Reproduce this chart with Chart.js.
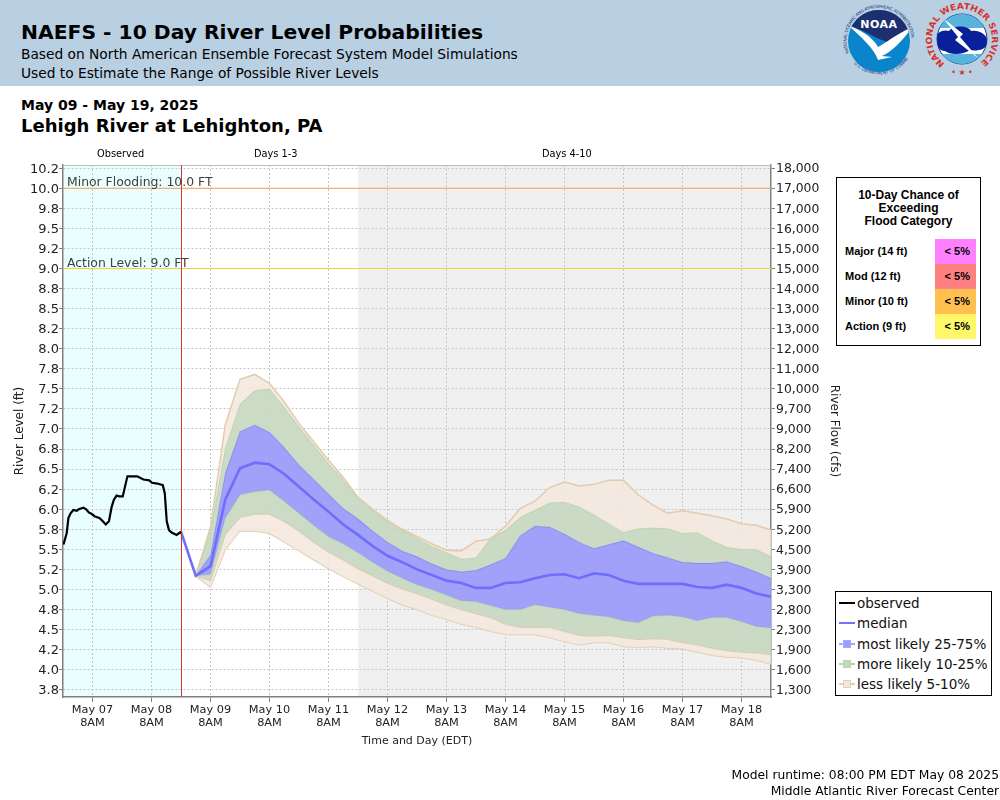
<!DOCTYPE html>
<html>
<head>
<meta charset="utf-8">
<title>NAEFS - 10 Day River Level Probabilities</title>
<script src="https://cdn.jsdelivr.net/npm/chart.js@4"></script>
<style>
  html, body { margin: 0; padding: 0; background: #fff; }
  body { width: 1000px; height: 800px; position: relative; overflow: hidden; font-family: "DejaVu Sans", sans-serif; color: #000; }
  .abs { position: absolute; white-space: nowrap; line-height: 1; }
  #banner { position: absolute; left: 0; top: 0; width: 1000px; height: 86px; background: #b9d0e3; }
  canvas { position: absolute; left: 0; top: 0; }
  #floodBox { position: absolute; left: 836px; top: 177px; width: 143px; height: 167px; border: 1px solid #000; background: #fff; font-family: "Liberation Sans", Arial, sans-serif; font-weight: bold; }
  #floodTitle { position: absolute; left: 0; top: 11px; width: 100%; text-align: center; font-size: 12px; line-height: 13px; }
  .floodLabel { position: absolute; left: 8px; font-size: 11px; line-height: 25px; }
  .floodCell { position: absolute; left: 98px; width: 41px; height: 25px; font-size: 11px; line-height: 25px; text-align: right; }
  .floodCell span { padding-right: 6px; }
  #legendBox { position: absolute; left: 835px; top: 591px; width: 155px; height: 103px; border: 1px solid #000; background: #fff; }
  .legRow { position: absolute; left: 0; width: 100%; height: 20px; font-size: 13.5px; line-height: 20px; color: #111; }
  .legRow .txt { position: absolute; left: 21px; top: 0; white-space: nowrap; }
  .legRow .ln { position: absolute; left: 3px; top: 9px; width: 16px; height: 2px; }
  .legRow .sq { position: absolute; left: 7px; top: 6px; width: 6px; height: 6px; border: 1px solid; }
</style>
</head>
<body>
<div id="banner"></div>
<div class="abs" style="left:21px;top:22px;font-size:20.3px;font-weight:bold;">NAEFS - 10 Day River Level Probabilities</div>
<div class="abs" style="left:21px;top:48px;font-size:13.75px;">Based on North American Ensemble Forecast System Model Simulations</div>
<div class="abs" style="left:21px;top:67px;font-size:13.75px;">Used to Estimate the Range of Possible River Levels</div>

<svg class="abs" style="left:840px;top:0;" width="160" height="84" viewBox="840 0 160 84">
  <defs>
    <path id="noaaRing" d="M 849 53 A 32.5 32.5 0 1 1 909 53"/>
    <path id="noaaRingLow" d="M 850 59 A 35 35 0 0 0 908 59"/>
    <path id="nwsRing" d="M 944.8 63.6 A 30 30 0 1 1 979.2 63.6"/>
    <clipPath id="noaaDisc"><circle cx="879" cy="41" r="31"/></clipPath>
    <clipPath id="nwsDisc"><circle cx="962" cy="39" r="25"/></clipPath>
  </defs>
  <text font-size="4.2" fill="#1d2f6f" font-family="DejaVu Sans"><textPath href="#noaaRing" textLength="112">NATIONAL OCEANIC AND ATMOSPHERIC ADMINISTRATION</textPath></text>
  <text font-size="4.2" fill="#1d2f6f" font-family="DejaVu Sans"><textPath href="#noaaRingLow" startOffset="6">U.S. DEPARTMENT OF COMMERCE</textPath></text>
  <g clip-path="url(#noaaDisc)">
    <rect x="845" y="8" width="70" height="70" fill="#0a85cc"/>
    <path d="M 845 8 H 915 V 27 L 893 44 L 879 39 L 863 31 L 845 24 Z" fill="#1d2f6f"/>
    <path d="M 848 25 C 860 30 872 36 878 47 C 884 44 898 33 912 27 C 902 42 892 51 882 56 L 892 57 L 878 60 C 874 48 860 36 848 25 Z" fill="#fff"/>
  </g>
  <text x="879" y="28" text-anchor="middle" font-size="11" font-weight="bold" fill="#fff" font-family="DejaVu Sans" letter-spacing="0.5">NOAA</text>

  <text font-size="8.5" font-weight="bold" fill="#d9302a" font-family="DejaVu Sans"><textPath href="#nwsRing" textLength="150" lengthAdjust="spacingAndGlyphs">NATIONAL WEATHER SERVICE</textPath></text>
  <circle cx="962" cy="39" r="25" fill="#ffffff" stroke="#123a8a" stroke-width="1"/>
  <g clip-path="url(#nwsDisc)">
    <rect x="937" y="14" width="50" height="14" fill="#58b4dc"/>
    <rect x="937" y="54" width="50" height="10" fill="#58b4dc"/>
    <path d="M 936 42 C 933 33 943 29 949 31 C 953 25 968 25 971 31 C 980 29 989 36 987 43 C 986 51 975 51 970 50 C 963 55 950 55 945 51 C 940 51 937 47 936 42 Z" fill="#0a1f9a"/>
    <path d="M 943 18 L 963 34 L 960 37 L 978 58 L 955 40 L 958 37 Z" fill="#fff"/>
  </g>
  <text x="962" y="75" text-anchor="middle" font-size="8" fill="#d9302a" font-family="DejaVu Sans">• ★ •</text>
</svg>

<div class="abs" style="left:21px;top:98px;font-size:14px;font-weight:bold;">May 09 - May 19, 2025</div>
<div class="abs" style="left:21px;top:117px;font-size:18px;font-weight:bold;">Lehigh River at Lehighton, PA</div>

<canvas id="chart" width="1000" height="800"></canvas>

<div class="abs" style="left:97px;top:149px;font-size:9.8px;">Observed</div>
<div class="abs" style="left:254px;top:149px;font-size:9.8px;">Days 1-3</div>
<div class="abs" style="left:542px;top:149px;font-size:9.8px;">Days 4-10</div>

<div id="floodBox"><div id="floodTitle">10-Day Chance of<br>Exceeding<br>Flood Category</div></div>
<div id="legendBox"></div>

<div class="abs" style="right:1px;top:769px;font-size:12.3px;">Model runtime: 08:00 PM EDT May 08 2025</div>
<div class="abs" style="right:1px;top:785px;font-size:12.3px;">Middle Atlantic River Forecast Center</div>

<script>
// Hours are counted from May 07 8AM EDT
const dayHours = [0, 24, 48, 72, 96, 120, 144, 168, 192, 216, 240, 264];
const dayLabels = ['May 07', 'May 08', 'May 09', 'May 10', 'May 11', 'May 12', 'May 13', 'May 14', 'May 15', 'May 16', 'May 17', 'May 18'];

const levelTicks = [10.25, 10, 9.75, 9.5, 9.25, 9, 8.75, 8.5, 8.25, 8, 7.75, 7.5, 7.25, 7, 6.75, 6.5, 6.25, 6, 5.75, 5.5, 5.25, 5, 4.75, 4.5, 4.25, 4, 3.75];
const levelLabels = ['10.2', '10.0', '9.8', '9.5', '9.2', '9.0', '8.8', '8.5', '8.2', '8.0', '7.8', '7.5', '7.2', '7.0', '6.8', '6.5', '6.2', '6.0', '5.8', '5.5', '5.2', '5.0', '4.8', '4.5', '4.2', '4.0', '3.8'];
const flowLabels = ['18,000', '17,000', '17,000', '16,000', '15,000', '15,000', '14,000', '13,000', '13,000', '12,000', '11,000', '10,000', '9,700', '9,000', '8,200', '7,400', '6,600', '5,900', '5,200', '4,500', '3,900', '3,300', '2,800', '2,300', '1,900', '1,600', '1,300'];

const axisMin = 3.66;
const axisMax = 10.29;
const hourMin = -12;
const hourMax = 276;

const minorLevel = 10;
const actionLevel = 9;

const observedHours = [-11.8, -10.5, -9.8, -8.9, -7.8, -6.4, -5.6, -3.7, -2.6, -1.5, -0.3, 1, 2.8, 4.2, 5.4, 6.7, 7.8, 8.7, 9.8, 10.9, 12.3, 14.2, 18.2, 20.7, 23.1, 24.2, 26.4, 28.6, 29.4, 30.2, 31.1, 32.2, 34.2, 35.6, 36];
const observedLevel = [5.56, 5.70, 5.89, 5.95, 5.99, 5.98, 6.00, 6.02, 6.00, 5.96, 5.94, 5.91, 5.89, 5.85, 5.81, 5.85, 6.03, 6.12, 6.17, 6.16, 6.16, 6.41, 6.41, 6.37, 6.36, 6.33, 6.32, 6.30, 6.20, 5.85, 5.74, 5.71, 5.68, 5.71, 5.72];

const medianHours = [36, 42, 48, 54, 60, 66, 72, 78, 84, 90, 96, 102, 108, 114, 120, 126, 132, 138, 144, 150, 156, 162, 168, 174, 180, 186, 192, 198, 204, 210, 216, 222, 228, 234, 240, 246, 252, 258, 264, 270, 276];
const median = [5.72, 5.17, 5.29, 6.12, 6.51, 6.58, 6.56, 6.44, 6.28, 6.12, 5.97, 5.81, 5.68, 5.54, 5.42, 5.34, 5.25, 5.18, 5.11, 5.08, 5.02, 5.02, 5.08, 5.09, 5.14, 5.18, 5.19, 5.14, 5.20, 5.18, 5.11, 5.07, 5.07, 5.07, 5.07, 5.03, 5.02, 5.06, 5.02, 4.95, 4.91];

const bandHours = [42, 48, 54, 60, 66, 72, 78, 84, 90, 96, 102, 108, 114, 120, 126, 132, 138, 144, 150, 156, 162, 168, 174, 180, 186, 192, 198, 204, 210, 216, 222, 228, 234, 240, 246, 252, 258, 264, 270, 276];
const upper5 = [5.17, 5.78, 7.05, 7.62, 7.68, 7.57, 7.34, 7.07, 6.84, 6.61, 6.40, 6.15, 6.00, 5.86, 5.75, 5.66, 5.57, 5.49, 5.48, 5.60, 5.63, 5.79, 6.01, 6.10, 6.27, 6.34, 6.29, 6.31, 6.36, 6.36, 6.18, 6.05, 5.95, 5.98, 5.95, 5.92, 5.88, 5.82, 5.80, 5.74];
const upper10 = [5.17, 5.74, 6.76, 7.31, 7.48, 7.50, 7.27, 7.03, 6.80, 6.57, 6.37, 6.13, 5.99, 5.85, 5.74, 5.64, 5.54, 5.46, 5.38, 5.40, 5.64, 5.74, 5.90, 5.99, 6.08, 6.09, 6.03, 5.93, 5.82, 5.71, 5.76, 5.77, 5.76, 5.70, 5.71, 5.61, 5.53, 5.50, 5.50, 5.41];
const upper25 = [5.17, 5.43, 6.45, 6.97, 7.05, 6.96, 6.77, 6.55, 6.37, 6.19, 6.01, 5.88, 5.73, 5.59, 5.48, 5.41, 5.32, 5.25, 5.22, 5.24, 5.31, 5.39, 5.67, 5.79, 5.78, 5.69, 5.59, 5.51, 5.56, 5.61, 5.53, 5.45, 5.40, 5.34, 5.33, 5.33, 5.35, 5.29, 5.22, 5.14];
const lower25 = [5.17, 5.19, 5.89, 6.18, 6.22, 6.24, 6.10, 5.95, 5.80, 5.66, 5.57, 5.46, 5.34, 5.23, 5.14, 5.06, 5.00, 4.93, 4.86, 4.85, 4.80, 4.75, 4.75, 4.81, 4.78, 4.75, 4.70, 4.68, 4.66, 4.61, 4.59, 4.67, 4.68, 4.66, 4.61, 4.65, 4.65, 4.60, 4.54, 4.52];
const lower10 = [5.17, 5.11, 5.69, 5.90, 5.94, 5.94, 5.85, 5.73, 5.59, 5.47, 5.37, 5.26, 5.17, 5.08, 5.01, 4.95, 4.88, 4.81, 4.75, 4.70, 4.65, 4.57, 4.53, 4.53, 4.53, 4.48, 4.43, 4.42, 4.43, 4.40, 4.38, 4.39, 4.38, 4.34, 4.31, 4.27, 4.24, 4.22, 4.21, 4.19];
const lower5 = [5.17, 5.03, 5.50, 5.73, 5.73, 5.70, 5.59, 5.48, 5.37, 5.26, 5.16, 5.07, 4.98, 4.89, 4.81, 4.75, 4.68, 4.63, 4.57, 4.53, 4.48, 4.44, 4.44, 4.44, 4.40, 4.35, 4.31, 4.34, 4.34, 4.29, 4.28, 4.29, 4.27, 4.26, 4.22, 4.18, 4.16, 4.15, 4.12, 4.07];

// Flood category table
const floodNames = ['Major (14 ft)', 'Mod (12 ft)', 'Minor (10 ft)', 'Action (9 ft)'];
const floodChance = ['< 5%', '< 5%', '< 5%', '< 5%'];
const floodColors = ['#ff80ff', '#ff8080', '#ffc050', '#fff76a'];

// Legend
const legendNames = ['observed', 'median', 'most likely 25-75%', 'more likely 10-25%', 'less likely 5-10%'];
const legendLines = ['#000000', '#7272fa', '#a8a8fc', '#b9d5ae', '#e6cfb4'];
const legendBoxes = [null, null, '#9c9cfa', '#c3d7b9', '#f0e6da'];

const tan = 'rgba(243, 232, 221, 0.85)';
const green = 'rgba(200, 216, 193, 0.92)';
const blue = 'rgba(155, 155, 250, 0.94)';
const tanEdge = 'rgba(226, 203, 176, 1)';
const greenEdge = 'rgba(184, 214, 172, 1)';
const blueEdge = 'rgba(134, 134, 250, 1)';
const gridColor = '#c6c6c6';

function points(xs, ys) {
  return xs.map((x, i) => ({ x: x, y: ys[i] }));
}

function bandSet(values, edge, fillColor) {
  return {
    data: points(bandHours, values),
    borderColor: edge,
    borderWidth: 1.5,
    backgroundColor: fillColor || 'transparent',
    fill: fillColor ? '+1' : false,
    pointRadius: 0,
    tension: 0,
    order: 5
  };
}

function flatLine(level, color) {
  return {
    data: points([hourMin, hourMax], [level, level]),
    borderColor: color,
    borderWidth: 1,
    pointRadius: 0,
    fill: false,
    order: 4
  };
}

// Shaded zones, cut line and flood labels
const chartNotes = {
  id: 'chartNotes',
  beforeDraw(chart) {
    const { ctx, chartArea: a, scales: { x } } = chart;
    ctx.save();
    ctx.fillStyle = '#e9feff';
    ctx.fillRect(a.left, a.top, x.getPixelForValue(36) - a.left, a.height);
    ctx.fillStyle = '#f0f0f0';
    ctx.fillRect(x.getPixelForValue(108), a.top, a.right - x.getPixelForValue(108), a.height);
    ctx.restore();
  },
  afterDatasetsDraw(chart) {
    const { ctx, chartArea: a, scales: { x, y } } = chart;
    ctx.save();
    ctx.strokeStyle = '#bdbdbd';
    ctx.beginPath();
    ctx.moveTo(a.left, a.top + 0.5);
    ctx.lineTo(a.right, a.top + 0.5);
    ctx.stroke();
    ctx.strokeStyle = '#d8342c';
    ctx.beginPath();
    ctx.moveTo(Math.round(x.getPixelForValue(36)) + 0.5, a.top);
    ctx.lineTo(Math.round(x.getPixelForValue(36)) + 0.5, a.bottom);
    ctx.stroke();
    ctx.fillStyle = '#404040';
    ctx.font = '12.4px "DejaVu Sans"';
    ctx.fillText('Minor Flooding: 10.0 FT', a.left + 4, y.getPixelForValue(minorLevel) - 2);
    ctx.fillText('Action Level: 9.0 FT', a.left + 4, y.getPixelForValue(actionLevel) - 2);
    ctx.restore();
  }
};

new Chart(document.getElementById('chart'), {
  type: 'line',
  data: {
    datasets: [
      { data: points(observedHours, observedLevel), borderColor: '#000', borderWidth: 2.2, pointRadius: 0, fill: false, order: 1 },
      { data: points(medianHours, median), borderColor: '#6e6efa', borderWidth: 2.6, pointRadius: 0, fill: false, order: 2 },
      flatLine(minorLevel, '#ffa040'),
      flatLine(actionLevel, '#f8d030'),
      bandSet(upper5, tanEdge, tan),
      bandSet(upper10, greenEdge, green),
      bandSet(upper25, blueEdge, blue),
      bandSet(lower25, greenEdge, green),
      bandSet(lower10, tanEdge, tan),
      bandSet(lower5, tanEdge, null)
    ]
  },
  options: {
    responsive: false,
    animation: false,
    devicePixelRatio: 1,
    layout: { padding: { left: 0, top: 165, right: 159, bottom: 49 } },
    plugins: { legend: { display: false }, tooltip: { enabled: false } },
    scales: {
      x: {
        type: 'linear',
        min: hourMin,
        max: hourMax,
        afterBuildTicks(scale) { scale.ticks = dayHours.map(v => ({ value: v })); },
        afterFit(scale) { scale.height = 54; },
        ticks: {
          autoSkip: false,
          maxRotation: 0,
          font: { family: 'DejaVu Sans', size: 11.3, lineHeight: '13px' },
          color: '#222',
          padding: 2,
          callback: (v, i) => [dayLabels[i], '8AM']
        },
        grid: { color: gridColor, tickColor: '#808080', tickLength: 5 },
        border: { color: '#808080', width: 1.5, dash: [2, 2] },
        title: { display: true, text: 'Time and Day (EDT)', font: { family: 'DejaVu Sans', size: 11 }, color: '#222', padding: { top: 0, bottom: 3 } }
      },
      y: {
        min: axisMin,
        max: axisMax,
        afterBuildTicks(scale) { scale.ticks = levelTicks.map(v => ({ value: v })); },
        afterFit(scale) { scale.width = 63; },
        ticks: {
          autoSkip: false,
          font: { family: 'DejaVu Sans', size: 13 },
          color: '#222',
          padding: 0,
          labelOffset: 1,
          callback: (v, i) => levelLabels[i]
        },
        grid: { color: gridColor, tickColor: '#808080', tickLength: 4 },
        border: { color: '#808080', width: 1.5, dash: [2, 2] },
        title: { display: true, text: 'River Level (ft)', font: { family: 'DejaVu Sans', size: 12 }, color: '#222', padding: { top: 13, bottom: 0 } }
      },
      y2: {
        position: 'right',
        min: axisMin,
        max: axisMax,
        afterBuildTicks(scale) { scale.ticks = levelTicks.map(v => ({ value: v })); },
        afterFit(scale) { scale.width = 70; },
        ticks: {
          autoSkip: false,
          font: { family: 'DejaVu Sans', size: 12.4 },
          color: '#222',
          padding: 1,
          labelOffset: 1,
          callback: (v, i) => flowLabels[i]
        },
        grid: { drawOnChartArea: false, tickColor: '#808080', tickLength: 4 },
        border: { color: '#808080', width: 1.5 },
        title: { display: true, text: 'River Flow (cfs)', font: { family: 'DejaVu Sans', size: 12 }, color: '#222', padding: { top: 0, bottom: 6 } }
      }
    }
  },
  plugins: [chartNotes]
});

// Flood category rows
const floodBox = document.getElementById('floodBox');
floodNames.forEach((name, i) => {
  const top = 61 + i * 25;
  floodBox.insertAdjacentHTML('beforeend',
    `<div class="floodLabel" style="top:${top}px">${name}</div>
     <div class="floodCell" style="top:${top}px;background:${floodColors[i]}"><span>${floodChance[i].replace('<', '&lt;')}</span></div>`);
});

// Legend rows
const legendBox = document.getElementById('legendBox');
legendNames.forEach((name, i) => {
  const top = 1 + i * 20.3;
  const sq = legendBoxes[i] ? `<div class="sq" style="background:${legendBoxes[i]};border-color:${legendLines[i]}"></div>` : '';
  legendBox.insertAdjacentHTML('beforeend',
    `<div class="legRow" style="top:${top}px"><div class="ln" style="background:${legendLines[i]}"></div>${sq}<div class="txt">${name}</div></div>`);
});
</script>
</body>
</html>
